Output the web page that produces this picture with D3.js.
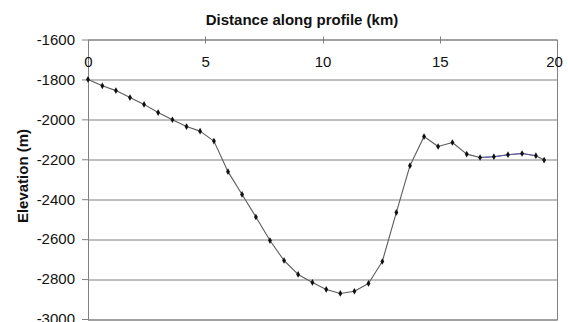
<!DOCTYPE html>
<html>
<head>
<meta charset="utf-8">
<script src="https://cdn.jsdelivr.net/npm/d3@7"></script>
<style>
  html, body { margin: 0; padding: 0; background: #fff; }
  #chart { width: 568px; height: 322px; }
  text { font-family: "Liberation Sans", Arial, sans-serif; }
</style>
</head>
<body>
<div id="chart"></div>
<script>
// distance along the profile (km) and elevation (m)
const distanceKm = [0, 0.61, 1.19, 1.79, 2.39, 2.99, 3.6, 4.2, 4.78, 5.37, 5.97, 6.57, 7.16,
  7.76, 8.36, 8.96, 9.57, 10.16, 10.76, 11.36, 11.96, 12.55, 13.15, 13.73, 14.33, 14.93,
  15.54, 16.15, 16.72, 17.31, 17.91, 18.51, 19.1, 19.45];
const elevationM = [-1800, -1832, -1856, -1891, -1925, -1966, -2002, -2036, -2059, -2109,
  -2262, -2376, -2489, -2607, -2707, -2777, -2817, -2852, -2872, -2861, -2822, -2712,
  -2466, -2232, -2086, -2136, -2116, -2174, -2191, -2187, -2177, -2171, -2182, -2204];
// part of the line that is drawn blue-ish in the original
const blueStretchKm = [16.72, 19.1];

const xTicks = [0, 5, 10, 15, 20];
const yTicks = [-1600, -1800, -2000, -2200, -2400, -2600, -2800, -3000];

const xTitle = "Distance along profile (km)";
const yTitle = "Elevation (m)";

const width = 568;
const height = 322;
const margin = { top: 39.5, right: 11, bottom: 3, left: 88 };
const innerWidth = width - margin.left - margin.right;
const innerHeight = height - margin.top - margin.bottom;

const points = distanceKm.map((d, i) => ({ km: d, elev: elevationM[i] }));

const svg = d3.select("#chart")
  .append("svg")
  .attr("width", width)
  .attr("height", height)
  .attr("viewBox", `0 0 ${width} ${height}`);

const chart = svg.append("g")
  .attr("transform", `translate(${margin.left}, ${margin.top})`);

const x = d3.scaleLinear().domain([0, 20]).range([0, innerWidth]);
const y = d3.scaleLinear().domain([-1600, -3000]).range([0, innerHeight]);

// horizontal gridlines
chart.append("g")
  .selectAll("line")
  .data(yTicks)
  .join("line")
  .attr("x1", 0)
  .attr("x2", innerWidth)
  .attr("y1", (d) => Math.round(y(d)) + 0.5)
  .attr("y2", (d) => Math.round(y(d)) + 0.5)
  .attr("stroke", "#808080")
  .attr("stroke-width", 1);

// plot frame
chart.append("rect")
  .attr("x", 0.5)
  .attr("y", Math.round(y(-1600)) + 0.5)
  .attr("width", innerWidth)
  .attr("height", Math.round(y(-3000)) - Math.round(y(-1600)))
  .attr("fill", "none")
  .attr("stroke", "#808080");

// left axis (plain hyphen minus, as in the original)
chart.append("g")
  .call(d3.axisLeft(y).tickValues(yTicks).tickSize(6).tickPadding(7).tickFormat((d) => String(d)))
  .call((g) => g.select(".domain").remove())
  .call((g) => g.selectAll(".tick line").attr("stroke", "#808080"))
  .call((g) => g.selectAll(".tick text")
    .attr("fill", "#111")
    .attr("font-size", 15)
    .attr("font-family", "Liberation Sans, Arial, sans-serif"));

// top axis with labels hanging below the line
chart.append("g")
  .call(d3.axisBottom(x).tickValues(xTicks).tickSize(0).tickPadding(17))
  .call((g) => g.select(".domain").remove())
  .call((g) => g.selectAll(".tick text")
    .attr("fill", "#111")
    .attr("font-size", 15)
    .attr("font-family", "Liberation Sans, Arial, sans-serif")
    .attr("dx", (d) => (d === 20 ? -3 : 0)));

chart.append("g")
  .selectAll("line")
  .data(xTicks.slice(1, -1))
  .join("line")
  .attr("x1", (d) => Math.round(x(d)) + 0.5)
  .attr("x2", (d) => Math.round(x(d)) + 0.5)
  .attr("y1", -3)
  .attr("y2", 4)
  .attr("stroke", "#808080");

// profile line
const line = d3.line()
  .x((d) => x(d.km))
  .y((d) => y(d.elev));

chart.append("path")
  .datum(points)
  .attr("fill", "none")
  .attr("stroke", "#5c5c5c")
  .attr("stroke-width", 1.1)
  .attr("stroke-linejoin", "round")
  .attr("d", line);

chart.append("path")
  .datum(points.filter((d) => d.km >= blueStretchKm[0] && d.km <= blueStretchKm[1]))
  .attr("fill", "none")
  .attr("stroke", "#5a5ab0")
  .attr("stroke-width", 1.1)
  .attr("d", line);

// diamond markers
chart.append("g")
  .selectAll("path")
  .data(points)
  .join("path")
  .attr("transform", (d) => `translate(${x(d.km)}, ${y(d.elev)})`)
  .attr("d", d3.symbol(d3.symbolDiamond, 13))
  .attr("fill", "#111");

// titles
svg.append("text")
  .attr("x", 302)
  .attr("y", 25)
  .attr("text-anchor", "middle")
  .attr("font-size", 15)
  .attr("font-weight", "bold")
  .attr("fill", "#111")
  .text(xTitle);

svg.append("text")
  .attr("transform", "translate(28, 176) rotate(-90)")
  .attr("text-anchor", "middle")
  .attr("font-size", 15)
  .attr("font-weight", "bold")
  .attr("fill", "#111")
  .text(yTitle);
</script>
</body>
</html>
